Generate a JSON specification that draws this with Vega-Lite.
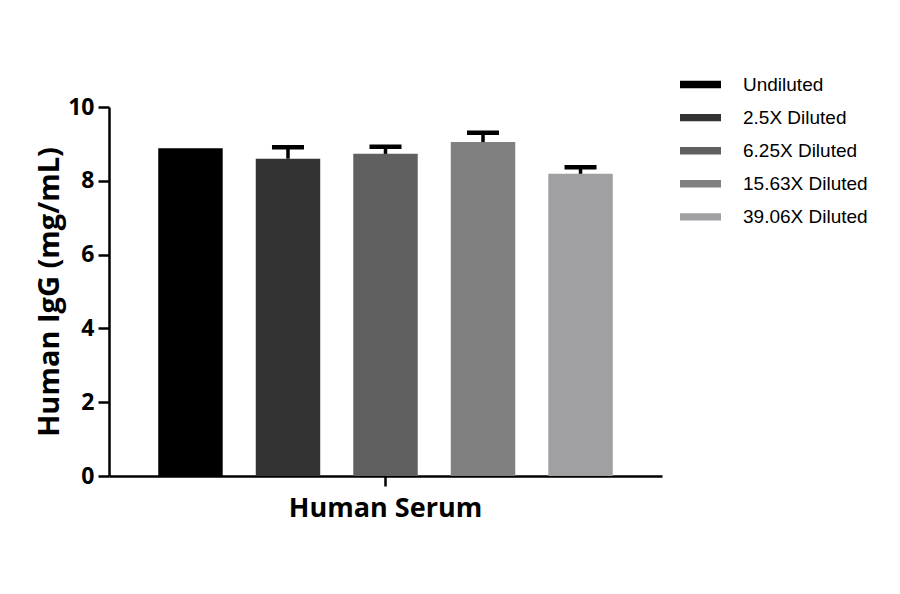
{
  "$schema": "https://vega.github.io/schema/vega-lite/v6.json",
  "autosize": {"type": "none"},
  "padding": {"left": 109, "top": 107, "right": 238, "bottom": 118},
  "width": 553,
  "height": 369,
  "background": "white",
  "config": {"view": {"stroke": null}},
  "data": {
    "values": [
      {"group": "Human Serum", "dilution": "Undiluted", "value": 8.88, "upper": null},
      {"group": "Human Serum", "dilution": "2.5X Diluted", "value": 8.6, "upper": 8.91},
      {"group": "Human Serum", "dilution": "6.25X Diluted", "value": 8.73, "upper": 8.92},
      {"group": "Human Serum", "dilution": "15.63X Diluted", "value": 9.05, "upper": 9.3},
      {"group": "Human Serum", "dilution": "39.06X Diluted", "value": 8.19, "upper": 8.37}
    ]
  },
  "encoding": {
    "x": {
      "field": "group", "type": "nominal",
      "scale": {"paddingInner": 0, "paddingOuter": 0},
      "axis": {
        "title": null, "ticks": true, "tickSize": 10, "tickWidth": 2.5, "tickColor": "black",
        "labelAngle": 0, "labelPadding": 9, "labelLimit": 0,
        "labelFont": "Open Sans", "labelFontWeight": "bold", "labelFontSize": 27, "labelColor": "black",
        "domainColor": "black", "domainWidth": 2.5
      }
    },
    "xOffset": {
      "field": "dilution", "type": "nominal",
      "scale": {"domain": ["Undiluted", "2.5X Diluted", "6.25X Diluted", "15.63X Diluted", "39.06X Diluted"], "paddingInner": 0.339, "paddingOuter": 0.505}
    }
  },
  "layer": [
    {
      "mark": {"type": "bar"},
      "encoding": {
        "y": {
          "field": "value", "type": "quantitative",
          "scale": {"domain": [0, 10], "nice": false},
          "axis": {
            "title": "Human IgG (mg/mL)", "values": [0, 2, 4, 6, 8, 10], "grid": false,
            "tickSize": 11, "tickWidth": 2.5, "tickColor": "black", "labelPadding": 4,
            "domainColor": "black", "domainWidth": 2.5,
            "labelFont": "Open Sans", "labelFontWeight": "bold", "labelFontSize": 23, "labelColor": "black",
            "titleFont": "Open Sans", "titleFontWeight": "bold", "titleFontSize": 29, "titleColor": "black", "titlePadding": 3
          }
        },
        "color": {
          "field": "dilution", "type": "nominal",
          "scale": {
            "domain": ["Undiluted", "2.5X Diluted", "6.25X Diluted", "15.63X Diluted", "39.06X Diluted"],
            "range": ["#000000", "#333333", "#606060", "#808080", "#a0a0a3"]
          },
          "legend": {
            "title": null, "orient": "none", "legendX": 571, "legendY": -43,
            "symbolType": "M-1,-0.18H1V0.18H-1Z", "symbolSize": 1681, "symbolStrokeWidth": 0,
            "labelFont": "Liberation Sans", "labelFontSize": 19, "labelColor": "black",
            "labelOffset": 22, "rowPadding": 2.1
          }
        }
      }
    },
    {
      "transform": [{"filter": "datum.upper != null"}],
      "mark": {"type": "rule", "color": "black", "strokeWidth": 3.5},
      "encoding": {
        "y": {"field": "value", "type": "quantitative"},
        "y2": {"field": "upper"}
      }
    },
    {
      "transform": [{"filter": "datum.upper != null"}],
      "mark": {"type": "tick", "color": "black", "thickness": 4.5, "size": 32, "opacity": 1},
      "encoding": {
        "y": {"field": "upper", "type": "quantitative"}
      }
    }
  ]
}
